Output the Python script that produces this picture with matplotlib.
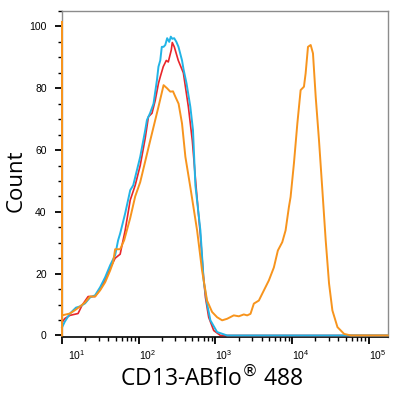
import matplotlib
matplotlib.use('Agg')
import matplotlib.pyplot as plt
import matplotlib.transforms as mtransforms
from matplotlib.ticker import FixedLocator, LogLocator, MultipleLocator, NullFormatter, LogFormatterSciNotation
import numpy as np

plt.rcParams['font.family'] = ['Liberation Sans', 'DejaVu Sans']

# fluorescence intensity (linear) and counts
red_x = [10, 10.9, 12.7, 16.2, 18.2, 21.9, 27.0, 31.4, 37.6, 42.4, 49.3, 57.3,
         66.6, 77.5, 90.0, 104.6, 121.7, 134, 149, 164, 181, 191, 209, 229,
         243, 266, 274, 291, 328, 382, 444, 500, 565, 637, 697, 740, 817,
         950, 1161, 177000]
red_y = [4.2, 5.5, 6.5, 7.1, 9.7, 12.6, 12.6, 14.9, 18.5, 21.7, 25.0, 26.3,
         34.0, 43.8, 48.6, 55.0, 63.9, 70.8, 71.9, 76.0, 81.6, 83.7, 87.0, 89.0,
         88.5, 92.4, 94.8, 93.4, 89.0, 85.0, 74.0, 63.0, 47.0, 32.4, 19.4, 12.4, 5.9,
         1.6, 0, 0]

blue_x = [10, 10.9, 12.7, 15.2, 17.2, 20.0, 23.2, 27.0, 31.4, 36.5, 42.4, 49.3,
          53.9, 57.3, 66.6, 77.5, 84.8, 104.6, 121.7, 128, 141, 156, 173, 181,
          191, 200, 211, 222, 235, 250, 262, 274, 290, 310, 330, 367, 385, 420,
          471, 510, 548, 637, 703, 778, 860, 1052, 1423, 177000]
blue_y = [2.6, 4.5, 7.1, 9.0, 9.4, 10.4, 12.3, 13.0, 15.6, 18.8, 22.7, 26.0,
          30.8, 33.0, 39.5, 47.0, 48.6, 57.8, 66.5, 69.7, 72.0, 75.0, 82.7, 87.0,
          89.0, 93.4, 93.4, 94.0, 96.2, 95.0, 96.7, 96.0, 96.2, 95.0, 93.4, 89.0,
          86.0, 81.6, 74.0, 66.5, 48.6, 34.0, 17.8, 10.3, 4.9, 1.1, 0, 0]

orange_x = [10, 10, 10, 12.7, 15.2, 17.2, 20.0, 23.2, 27.0, 31.4, 36.5, 42.4, 46.4,
            49.3, 57.3, 64.6, 77.5, 90.0, 104.6, 141, 181, 211, 234, 258, 280,
            300, 331, 367, 406, 471, 577, 670, 778, 905, 1052, 1224, 1423, 1735,
            2018, 2344, 2596, 2868, 3170, 3684, 4076, 4973, 5781, 6520, 7441,
            8220, 9085, 9550, 10560, 11700, 12910, 14260, 15000, 16100, 17460,
            18700, 20300, 22400, 24800, 27400, 30300, 33500, 39000, 47600,
            58200, 177000]
orange_y = [0, 101.5, 6.5, 7.1, 8.4, 9.4, 10.7, 12.6, 12.6, 14.6, 17.2, 21.0, 23.7,
            27.9, 27.9, 30.8, 38.0, 45.0, 49.6, 63.0, 74.0, 81.0, 80.0, 78.9, 79.0,
            77.3, 75.0, 68.6, 57.8, 48.0, 34.0, 21.0, 11.3, 7.6, 5.9, 4.9, 5.4, 6.5,
            6.2, 6.8, 6.5, 7.0, 10.3, 11.3, 13.5, 17.8, 22.0, 27.5, 30.2,
            34.0, 41.6, 44.8, 55.7, 68.6, 79.4, 80.5, 84.8, 93.4, 94.0,
            91.3, 77.2, 63.2, 47.0, 30.8, 16.8, 8.1, 2.7, 0.5,
            0, 0]

major_x = [1e1, 1e2, 1e3, 1e4, 1e5]

fig = plt.figure(figsize=(4, 4), dpi=100)
ax = fig.add_axes([0.155, 0.1575, 0.815, 0.815])

ax.plot(red_x, red_y, color='#E8262B', lw=1.2, clip_on=False, zorder=3)
ax.plot(blue_x, blue_y, color='#22B4E6', lw=1.4, clip_on=False, zorder=3)
ax.plot(orange_x, orange_y, color='#F7941D', lw=1.4, clip_on=False, zorder=3)

ax.set_xscale('log')
ax.set_xlim(10, 10 ** 5.25)
ax.set_ylim(-0.5, 105)

ax.xaxis.set_major_locator(FixedLocator(major_x))
ax.xaxis.set_major_formatter(LogFormatterSciNotation())
ax.xaxis.set_minor_locator(LogLocator(base=10, subs=np.arange(2, 10), numticks=20))
ax.xaxis.set_minor_formatter(NullFormatter())
ax.yaxis.set_major_locator(MultipleLocator(20))
ax.yaxis.set_minor_locator(MultipleLocator(5))

ax.tick_params(which='major', length=5, width=1.3, labelsize=7.5, color='black')
ax.tick_params(which='minor', length=3, width=1.0, color='black')
ax.tick_params(axis='y', which='major', pad=6)
ax.tick_params(axis='x', which='major', pad=3)

for side in ['top', 'right', 'left']:
    ax.spines[side].set_color('#8c8c8c')
    ax.spines[side].set_linewidth(1.0)
ax.spines['bottom'].set_color('black')
ax.spines['bottom'].set_linewidth(1.2)

fig.canvas.draw()
ticks = ax.xaxis.get_major_ticks()
for t in ticks:
    t.label1.set_horizontalalignment('left')
ticks[0].label1.set_transform(ticks[0].label1.get_transform() +
                              mtransforms.ScaledTranslation(0.06, 0, fig.dpi_scale_trans))

ax.set_xlabel('CD13-ABflo$^{®}$ 488', family=['Open Sans', 'DejaVu Sans'], fontsize=16.5)
ax.set_ylabel('Count', family=['Open Sans', 'DejaVu Sans'], fontsize=16)
ax.xaxis.set_label_coords(0.459, -0.09)
ax.yaxis.set_label_coords(-0.11, 0.48)

plt.savefig('out.png', dpi=100)
